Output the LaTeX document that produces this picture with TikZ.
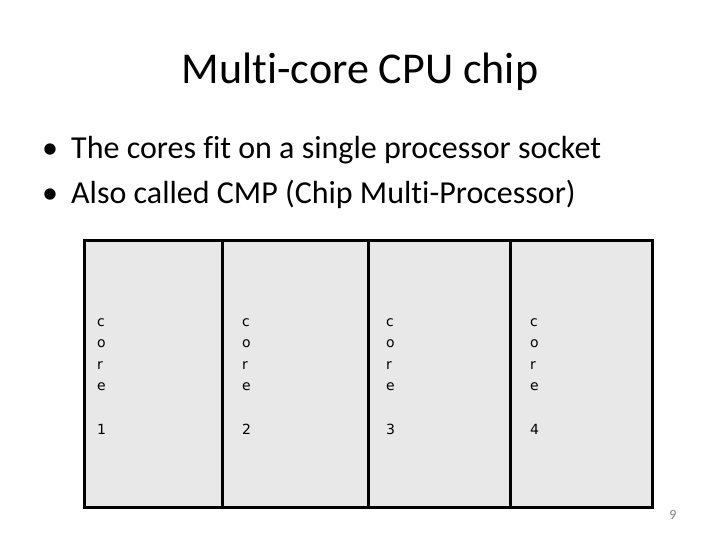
\documentclass[tikz,border=0pt]{standalone}
\usepackage{fontspec}
\setmainfont{Carlito}[Ligatures=NoCommon]
\newfontfamily\corefont{DejaVu Sans}
\definecolor{chipgray}{HTML}{E8E8E8}
\begin{document}
\begin{tikzpicture}[x=1pt,y=-1pt,
  slidetext/.style={anchor=base west,inner sep=0pt,font=\fontsize{32}{32}\selectfont},
  coretext/.style={anchor=base west,inner sep=0pt,font=\corefont\fontsize{14}{14}\selectfont}]
  \useasboundingbox (0,0) rectangle (720,540);
  \node[anchor=base,inner sep=0pt,font=\fontsize{44}{44}\selectfont] (title) at (360,84) {Multi-core CPU chip};
  \node[slidetext,anchor=base] (dot1) at (50,159) {\textbullet};
  \node[slidetext] (line1) at (71,159) {The cores fit on a single processor socket};
  \node[slidetext,anchor=base] (dot2) at (50,204) {\textbullet};
  \node[slidetext] (line2) at (71,204) {Also called CMP (Chip Multi-Processor)};

  % chip with four cores
  \fill[chipgray] (84,240) rectangle (652,507);
  \draw[line width=3pt] (84,240) rectangle (652,507);
  \foreach \x in {222,368,510}{\draw[line width=3pt] (\x,240) -- (\x,507);}
  \foreach \n/\x in {1/97,2/242,3/386,4/530}{
    \foreach \l [count=\i] in {c,o,r,e}{
      \node[coretext] (core\n-\i) at (\x,{326+21.5*(\i-1)}) {\l};
    }
    \node[coretext] (core\n-num) at (\x,434) {\n};
  }
  \node[anchor=base,inner sep=0pt,text=black!50,font=\fontsize{14}{14}\selectfont] (page) at (673,519) {9};
\end{tikzpicture}
\end{document}
